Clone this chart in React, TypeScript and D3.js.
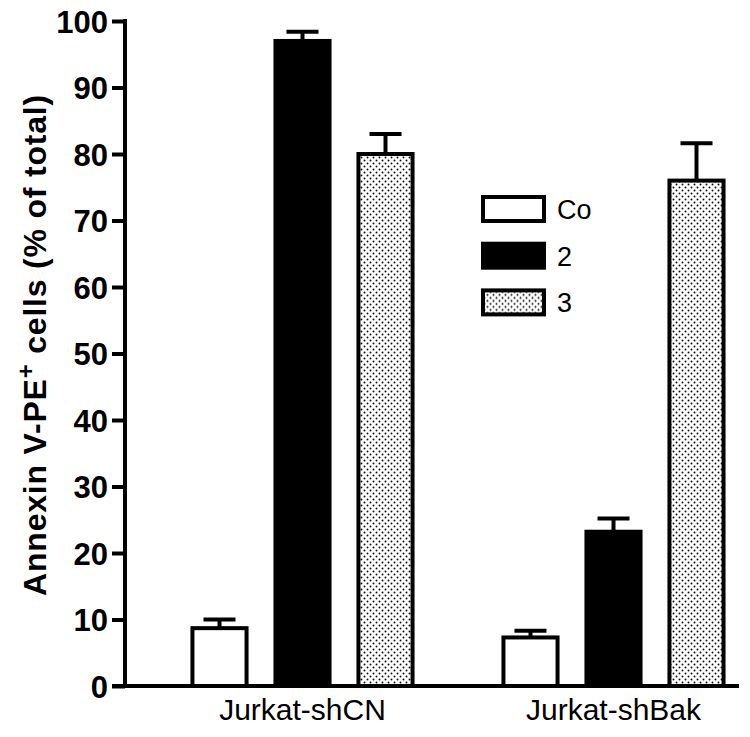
import * as d3 from 'd3'
import { useEffect, useRef } from 'react'

const groups = ['Jurkat-shCN', 'Jurkat-shBak']
const series = ['Co', '2', '3']
const values = [
  [8.7, 97, 80],
  [7.3, 23.2, 76],
]
const errors = [
  [1.3, 1.4, 3],
  [1.0, 2, 5.6],
]
const yTicks = [0, 10, 20, 30, 40, 50, 60, 70, 80, 90, 100]

const font = '"Liberation Sans", Arial, Helvetica, sans-serif'

const App = () => {
  const svgRef = useRef<SVGSVGElement | null>(null)
  const width = 750
  const height = 737

  useEffect(() => {
    const svg = d3.select(svgRef.current)
    svg.selectAll('*').remove()

    const y = d3.scaleLinear([0, 100], [686, 21])
    const x0 = d3.scaleBand(groups, [147, 769]).padding(0)
    const x1 = d3.scaleBand(series, [31, 280]).paddingInner(0.3).paddingOuter(0.15)

    const defs = svg.append('defs')
    const pat = defs.append('pattern')
      .attr('id', 'dots')
      .attr('patternUnits', 'userSpaceOnUse')
      .attr('width', 6)
      .attr('height', 6)
    pat.append('rect').attr('width', 6).attr('height', 6).attr('fill', '#fff')
    pat.append('circle').attr('cx', 1.5).attr('cy', 1.5).attr('r', 1).attr('fill', '#111')
    pat.append('circle').attr('cx', 4.5).attr('cy', 4.5).attr('r', 1).attr('fill', '#111')

    const fills = ['#fff', '#000', 'url(#dots)']

    // bars
    const g = svg.append('g')
    groups.forEach((grp, gi) => {
      series.forEach((s, si) => {
        const bx = x0(grp)! + x1(s)!
        const bw = x1.bandwidth()
        const v = values[gi][si]
        const e = errors[gi][si]
        const cx = bx + bw / 2
        g.append('line')
          .attr('x1', cx).attr('x2', cx)
          .attr('y1', y(v)).attr('y2', y(v + e))
          .attr('stroke', '#000').attr('stroke-width', 4)
        g.append('line')
          .attr('x1', cx - 16).attr('x2', cx + 16)
          .attr('y1', y(v + e)).attr('y2', y(v + e))
          .attr('stroke', '#000').attr('stroke-width', 4)
        g.append('rect')
          .attr('x', bx + 2)
          .attr('y', y(v))
          .attr('width', bw - 4)
          .attr('height', y(0) - y(v))
          .attr('fill', fills[si])
          .attr('stroke', '#000')
          .attr('stroke-width', 4)
      })
    })

    // x axis line
    svg.append('line')
      .attr('x1', 112).attr('x2', 739)
      .attr('y1', y(0)).attr('y2', y(0))
      .attr('stroke', '#000').attr('stroke-width', 4)

    // y axis
    const yAxis = svg.append('g')
      .attr('transform', 'translate(125,0)')
      .call(d3.axisLeft(y).tickValues(yTicks).tickSize(13).tickSizeOuter(0).tickPadding(4))
    yAxis.select('.domain')
      .attr('stroke', '#000').attr('stroke-width', 4)
      .attr('d', `M0,${y(0)}V${y(100) - 2}`)
    yAxis.selectAll('.tick line').attr('stroke', '#000').attr('stroke-width', 4)
    yAxis.selectAll('.tick text')
      .attr('font-family', font)
      .attr('font-size', 31)
      .attr('font-weight', 'bold')
      .attr('fill', '#000')
      .attr('dy', '0.36em')

    // x labels
    svg.append('g').selectAll('text')
      .data(groups)
      .join('text')
      .attr('x', d => x0(d)! + x0.bandwidth() / 2)
      .attr('y', 720)
      .attr('text-anchor', 'middle')
      .attr('font-family', font)
      .attr('font-size', 30)
      .text(d => d)

    // y label
    const yl = svg.append('text')
      .attr('transform', 'translate(46,345) rotate(-90)')
      .attr('text-anchor', 'middle')
      .attr('font-family', font)
      .attr('font-size', 32)
      .attr('font-weight', 'bold')
      .attr('letter-spacing', 0.8)
    yl.append('tspan').text('Annexin V-PE')
    yl.append('tspan').attr('dy', -12).attr('font-size', 24).text('+')
    yl.append('tspan').attr('dy', 12).text(' cells (% of total)')

    // legend
    const leg = svg.append('g').attr('transform', 'translate(483,197)')
    series.forEach((s, i) => {
      const row = leg.append('g').attr('transform', `translate(0,${i * 46.7})`)
      row.append('rect')
        .attr('width', 61).attr('height', 24)
        .attr('fill', fills[i])
        .attr('stroke', '#000').attr('stroke-width', 4)
      row.append('text')
        .attr('x', 74).attr('y', 22)
        .attr('font-family', font)
        .attr('font-size', 27)
        .text(s)
    })
  }, [])

  return (
    <svg
      ref={svgRef}
      width={width}
      height={height}
      style={{ position: 'absolute', left: 0, top: 0, background: '#fff' }}
    />
  )
}

export default App
